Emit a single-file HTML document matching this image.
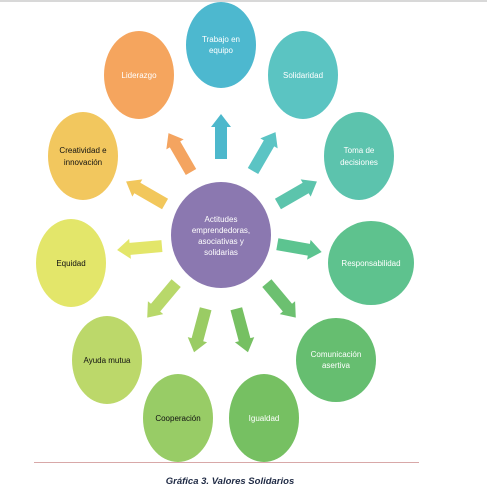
<!DOCTYPE html>
<html><head><style>
html,body{margin:0;padding:0;background:#fff;}
svg{display:block;}
text{font-family:"Liberation Sans",sans-serif;font-size:8px;text-anchor:middle;}
</style></head><body>
<svg width="487" height="496" viewBox="0 0 487 496">
<defs>
<polygon id="ar" points="-6,22 6,22 6,-10 10,-10 0,-23 -10,-10 -6,-10"/>
</defs>
<rect x="0" y="0" width="487" height="2" fill="#d8d8d8"/>
<use href="#ar" fill="#4db8cc" transform="translate(221,137)"/>
<use href="#ar" fill="#f4a460" transform="translate(180,153) rotate(-30)"/>
<use href="#ar" fill="#5bc4c4" transform="translate(264,152) rotate(30)"/>
<use href="#ar" fill="#5cc4ac" transform="translate(297,193) rotate(60)"/>
<use href="#ar" fill="#f2c75c" transform="translate(146,193) rotate(-60)"/>
<use href="#ar" fill="#e3e66a" transform="translate(140,248) rotate(-95)"/>
<use href="#ar" fill="#5cc490" transform="translate(299,248) rotate(100)"/>
<use href="#ar" fill="#b8d86a" transform="translate(162,300) rotate(-140)"/>
<use href="#ar" fill="#9acc64" transform="translate(200,330) rotate(-165)"/>
<use href="#ar" fill="#76c062" transform="translate(242,330) rotate(165)"/>
<use href="#ar" fill="#6cc070" transform="translate(281,300) rotate(140)"/>
<ellipse cx="221" cy="45" rx="35" ry="43" fill="#4db8cf"/>
<ellipse cx="139" cy="75" rx="35" ry="44" fill="#f5a55e"/>
<ellipse cx="303" cy="75" rx="35" ry="44" fill="#5bc4c2"/>
<ellipse cx="359" cy="156" rx="35" ry="44" fill="#5cc3ad"/>
<ellipse cx="83" cy="156" rx="35" ry="44" fill="#f2c75e"/>
<ellipse cx="221" cy="235" rx="50" ry="53" fill="#8b78b0"/>
<ellipse cx="71" cy="263" rx="35" ry="44" fill="#e3e66a"/>
<ellipse cx="371" cy="263" rx="43" ry="42" fill="#5ec28e"/>
<ellipse cx="107" cy="360" rx="35" ry="44" fill="#bcd86a"/>
<ellipse cx="336" cy="360" rx="40" ry="42" fill="#66be70"/>
<ellipse cx="178" cy="418" rx="35" ry="44" fill="#98cc66"/>
<ellipse cx="264" cy="418" rx="35" ry="44" fill="#76c062"/>
<g fill="#fff">
<text x="221" y="42">Trabajo en</text><text x="221" y="53">equipo</text>
<text x="139" y="78">Liderazgo</text>
<text x="303" y="78">Solidaridad</text>
<text x="359" y="153">Toma de</text><text x="359" y="165">decisiones</text>
<text x="221" y="222">Actitudes</text><text x="221" y="233">emprendedoras,</text><text x="221" y="244">asociativas y</text><text x="221" y="255">solidarias</text>
<text x="371" y="266">Responsabilidad</text>
<text x="336" y="357">Comunicación</text><text x="336" y="368">asertiva</text>
<text x="264" y="421">Igualdad</text>
</g>
<g fill="#111">
<text x="83" y="153">Creatividad e</text><text x="83" y="165">innovación</text>
<text x="71" y="266">Equidad</text>
<text x="107" y="363">Ayuda mutua</text>
<text x="178" y="421">Cooperación</text>
</g>
<rect x="34" y="462" width="385" height="1" fill="#d8a8a8"/>
<text x="230" y="484" style="font-size:9.5px;font-weight:bold;font-style:italic" fill="#1f2a44">Gráfica 3. Valores Solidarios</text>
</svg>
</body></html>
